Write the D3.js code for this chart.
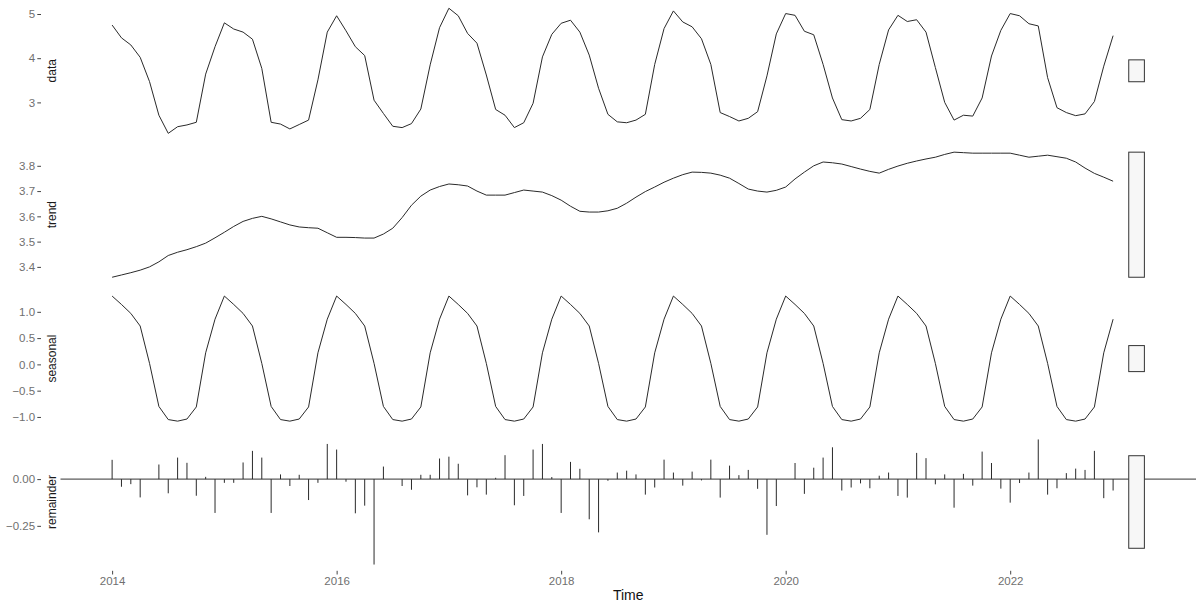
<!DOCTYPE html>
<html>
<head>
<meta charset="utf-8">
<script src="https://cdn.jsdelivr.net/npm/d3@7"></script>
<style>
  html, body { margin: 0; padding: 0; background: #fff; }
  svg { display: block; font-family: "Liberation Sans", Arial, sans-serif; }
</style>
</head>
<body>
<svg id="chart" width="1197" height="605"></svg>
<script>
// ---- data (monthly, starting Jan 2014) ----
const startYear = 2014;
const frequency = 12;

const dataValues = [
  4.75,4.46,4.30,4.02,3.47,2.71,2.30,2.45,2.49,2.55,3.64,4.26,
  4.80,4.66,4.59,4.43,3.77,2.55,2.51,2.40,2.50,2.60,3.51,4.59,
  4.96,4.62,4.26,4.06,3.05,2.75,2.46,2.43,2.52,2.85,3.85,4.69,
  5.13,4.96,4.56,4.34,3.62,2.84,2.71,2.43,2.54,2.98,4.03,4.54,
  4.79,4.86,4.59,4.07,3.32,2.73,2.56,2.54,2.60,2.73,3.86,4.67,
  5.07,4.82,4.71,4.44,3.86,2.77,2.68,2.58,2.64,2.79,3.60,4.55,
  5.01,4.97,4.61,4.53,3.86,3.10,2.61,2.58,2.64,2.84,3.86,4.64,
  4.97,4.83,4.87,4.59,3.79,3.00,2.60,2.71,2.69,3.10,4.05,4.63,
  5.01,4.96,4.78,4.73,3.56,2.88,2.77,2.70,2.74,3.02,3.82,4.51
];

const trendValues = [
  3.359,3.368,3.377,3.387,3.400,3.420,3.445,3.458,3.468,3.480,3.494,3.515,
  3.537,3.560,3.580,3.592,3.600,3.590,3.578,3.566,3.558,3.555,3.553,3.535,
  3.517,3.517,3.516,3.514,3.514,3.530,3.553,3.595,3.644,3.680,3.704,3.718,
  3.728,3.725,3.720,3.700,3.684,3.684,3.684,3.694,3.704,3.700,3.696,3.682,
  3.664,3.640,3.620,3.617,3.617,3.622,3.632,3.652,3.676,3.698,3.716,3.735,
  3.751,3.765,3.775,3.774,3.771,3.763,3.751,3.730,3.708,3.700,3.696,3.703,
  3.716,3.748,3.775,3.800,3.815,3.812,3.807,3.797,3.787,3.778,3.771,3.786,
  3.799,3.810,3.819,3.827,3.834,3.845,3.854,3.852,3.850,3.850,3.850,3.850,
  3.850,3.842,3.834,3.838,3.842,3.836,3.830,3.815,3.791,3.770,3.755,3.739
];

const seasonalValues = [
  1.30,1.14,0.97,0.73,0.02,-0.80,-1.05,-1.08,-1.04,-0.81,0.22,0.86,
  1.30,1.14,0.97,0.73,0.02,-0.80,-1.05,-1.08,-1.04,-0.81,0.22,0.86,
  1.30,1.14,0.97,0.73,0.02,-0.80,-1.05,-1.08,-1.04,-0.81,0.22,0.86,
  1.30,1.14,0.97,0.73,0.02,-0.80,-1.05,-1.08,-1.04,-0.81,0.22,0.86,
  1.30,1.14,0.97,0.73,0.02,-0.80,-1.05,-1.08,-1.04,-0.81,0.22,0.86,
  1.30,1.14,0.97,0.73,0.02,-0.80,-1.05,-1.08,-1.04,-0.81,0.22,0.86,
  1.30,1.14,0.97,0.73,0.02,-0.80,-1.05,-1.08,-1.04,-0.81,0.22,0.86,
  1.30,1.14,0.97,0.73,0.02,-0.80,-1.05,-1.08,-1.04,-0.81,0.22,0.86,
  1.30,1.14,0.97,0.73,0.02,-0.80,-1.05,-1.08,-1.04,-0.81,0.22,0.86
];

const remainderValues = [
  0.103,-0.041,-0.027,-0.098,0.000,0.078,-0.076,0.115,0.087,-0.089,0.012,-0.181,
  -0.020,-0.020,0.089,0.151,0.115,-0.181,0.025,-0.037,0.023,-0.112,-0.020,0.188,
  0.158,-0.014,-0.183,-0.142,-0.457,0.067,0.000,-0.037,-0.057,0.023,0.023,0.110,
  0.120,0.082,-0.087,-0.044,-0.083,0.007,0.128,-0.140,-0.090,0.158,0.188,0.011,
  -0.181,0.092,0.055,-0.215,-0.285,-0.009,0.035,0.045,0.025,-0.083,-0.045,0.104,
  0.035,-0.035,0.040,-0.007,0.104,-0.099,0.072,0.021,0.049,-0.052,-0.298,-0.144,
  0.000,0.086,-0.079,0.061,0.115,0.170,-0.061,-0.045,-0.023,-0.049,0.018,0.035,
  -0.090,-0.099,0.140,0.112,-0.028,0.025,-0.153,0.028,-0.035,0.147,0.086,-0.051,
  -0.126,-0.021,0.035,0.212,-0.083,-0.049,0.032,0.056,0.049,0.151,-0.102,-0.061
];

const panelNames = ["data", "trend", "seasonal", "remainder"];
const yTickValues = [
  [3, 4, 5],
  [3.4, 3.5, 3.6, 3.7, 3.8],
  [-1.0, -0.5, 0.0, 0.5, 1.0],
  [-0.25, 0.00]
];
const yTickFormats = [".0f", ".1f", ".1f", ".2f"];
const xTickValues = [2014, 2016, 2018, 2020, 2022];
const xTitle = "Time";

// ---- layout ----
const svg = d3.select("#chart");
const left = 60.5, right = 1196;
const panelTops = [2, 145.9, 289.8, 433.2];
const panelH = 137.6;
const tickTextColor = "#6f6f6f";

const times = dataValues.map((d, i) => startYear + i / frequency);
const series = [dataValues, trendValues, seasonalValues, remainderValues];

const tMin = d3.min(times), tMax = d3.max(times);
const barWidth = (tMax - tMin) / 64;
const barLeft = tMax + barWidth, barRight = tMax + 2 * barWidth;
const xSpan = barRight - tMin;
const x = d3.scaleLinear()
  .domain([tMin - 0.05 * xSpan, barRight + 0.05 * xSpan])
  .range([left, right]);

const ranges = series.map(s => d3.extent(s));
const barLength = d3.min(ranges, r => r[1] - r[0]);

series.forEach((vals, p) => {
  const [lo, hi] = ranges[p];
  const pad = 0.05 * (hi - lo);
  const y = d3.scaleLinear()
    .domain([lo - pad, hi + pad])
    .range([panelTops[p] + panelH, panelTops[p]]);
  const g = svg.append("g");

  // y axis
  const ax = g.append("g")
    .attr("transform", `translate(41,0)`)
    .call(d3.axisLeft(y).tickValues(yTickValues[p])
      .tickFormat(d3.format(yTickFormats[p])).tickSize(3.7).tickPadding(2.2));
  ax.select(".domain").remove();
  ax.selectAll(".tick line").attr("stroke", "#444").attr("stroke-width", 1);
  ax.selectAll(".tick text").attr("font-size", "11.5px").attr("fill", tickTextColor);

  // strip label
  g.append("text")
    .attr("transform", `translate(56,${panelTops[p] + panelH / 2}) rotate(-90)`)
    .attr("text-anchor", "middle")
    .attr("font-size", "12px")
    .attr("fill", "#1a1a1a")
    .text(panelNames[p]);

  if (p < 3) {
    const line = d3.line().x((d, i) => x(times[i])).y(d => y(d));
    g.append("path").datum(vals)
      .attr("d", line)
      .attr("fill", "none")
      .attr("stroke", "#2a2a2a")
      .attr("stroke-width", 1);
  } else {
    g.append("line")
      .attr("x1", left).attr("x2", right)
      .attr("y1", y(0)).attr("y2", y(0))
      .attr("stroke", "#333").attr("stroke-width", 1);
    g.selectAll("line.seg").data(vals).enter().append("line")
      .attr("class", "seg")
      .attr("x1", (d, i) => x(times[i])).attr("x2", (d, i) => x(times[i]))
      .attr("y1", y(0)).attr("y2", d => y(d))
      .attr("stroke", "#2a2a2a").attr("stroke-width", 1);
  }

  // range bar
  const mid = (lo + hi) / 2;
  g.append("rect")
    .attr("x", x(barLeft))
    .attr("width", x(barRight) - x(barLeft))
    .attr("y", y(mid + barLength / 2))
    .attr("height", y(mid - barLength / 2) - y(mid + barLength / 2))
    .attr("fill", "#f7f7f7")
    .attr("stroke", "#333")
    .attr("stroke-width", 1);

  // x axis on bottom panel
  if (p === 3) {
    const xa = svg.append("g")
      .attr("transform", `translate(0,${panelTops[p] + panelH})`)
      .call(d3.axisBottom(x).tickValues(xTickValues).tickFormat(d3.format("d"))
        .tickSize(3.7).tickPadding(2.2));
    xa.select(".domain").remove();
    xa.selectAll(".tick line").attr("stroke", "#444");
    xa.selectAll(".tick text").attr("font-size", "11.5px").attr("fill", tickTextColor);
  }
});

svg.append("text")
  .attr("x", (left + right) / 2)
  .attr("y", 600)
  .attr("text-anchor", "middle")
  .attr("font-size", "14px")
  .attr("fill", "#111")
  .text(xTitle);
</script>
</body>
</html>
